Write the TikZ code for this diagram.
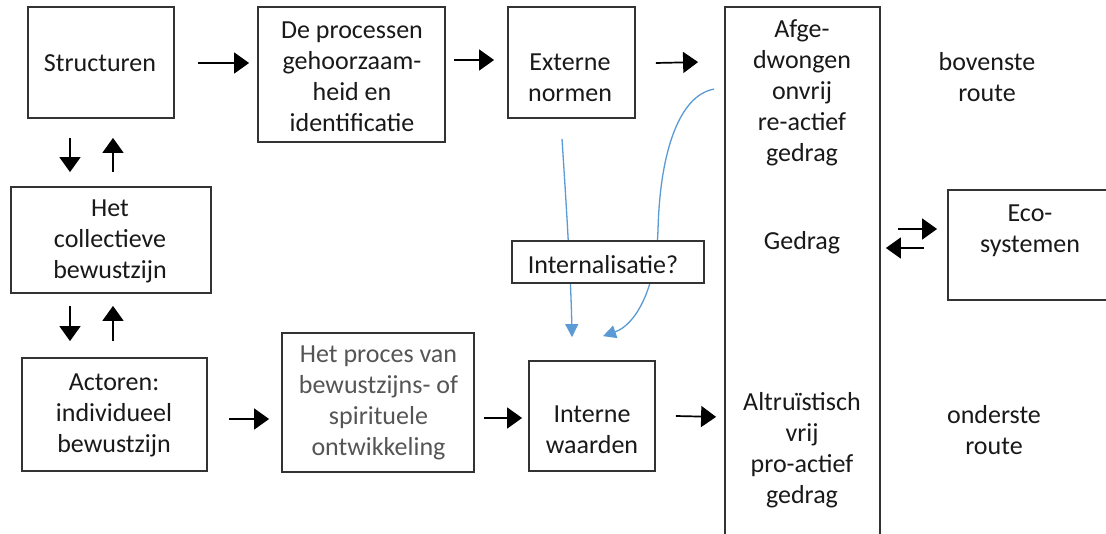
\documentclass[tikz,border=0pt]{standalone}
\usepackage{fontspec}
\setmainfont{Carlito}
\usetikzlibrary{arrows.meta,calc}
\definecolor{bluec}{RGB}{91,155,213}
\definecolor{txtc}{RGB}{25,25,25}
\definecolor{grayt}{RGB}{85,85,85}
\begin{document}
\begin{tikzpicture}[x=1pt,y=-1pt,
  txt/.style={font=\fontsize{26}{31}\selectfont, text=txtc, align=center, inner sep=0pt},
  box/.style={draw=black!80, line width=1.8pt, inner sep=0pt},
  arr/.style={line width=1.7pt, draw=black, -{Triangle[length=15pt,width=21pt]}},
  barr/.style={line width=1.3pt, draw=bluec, -{Triangle[length=13pt,width=13pt,fill=bluec]}},
]
\clip (0,0) rectangle (1106,534);
\fill[white] (0,0) rectangle (1106,534);

% boxes
\node[box, minimum width=146pt, minimum height=111pt] (structuren) at (101,62.5) {};
\node[box, minimum width=187pt, minimum height=135pt] (processen) at (351.5,74.5) {};
\node[box, minimum width=127pt, minimum height=111pt] (externe) at (571.5,62.5) {};
\node[box, minimum width=155pt, minimum height=546pt] (tall) at (802.5,280) {};
\node[box, minimum width=167pt, minimum height=110pt] (eco) at (1031.5,245) {};
\node[box, minimum width=200pt, minimum height=106pt] (collectief) at (111,240) {};
\node[box, minimum width=185pt, minimum height=113pt] (actoren) at (114.5,414.5) {};
\node[box, minimum width=192pt, minimum height=139pt] (proces) at (378,402.5) {};
\node[box, minimum width=126pt, minimum height=110pt] (interne) at (592,416) {};

% texts
\node[txt] (tstructuren) at (100,63) {Structuren};
\node[txt] (tprocessen) at (352,77) {De processen\\gehoorzaam-\\heid en\\identificatie};
\node[txt] (texterne) at (570,77.5) {Externe\\normen};
\node[txt] (tafge) at (802,93) {Afge-\\dwongen\\onvrij\\re-actief\\gedrag};
\node[txt] (tgedrag) at (802,243) {Gedrag};
\node[txt] (taltru) at (802,450) {Altruïstisch\\vrij\\pro-actief\\gedrag};
\node[txt] (tboven) at (987,77.5) {bovenste\\route};
\node[txt] (tonder) at (994,430.5) {onderste\\route};
\node[txt] (teco) at (1030,231) {Eco-\\systemen};
\node[txt] (tcollectief) at (110,241) {Het\\collectieve\\bewustzijn};
\node[txt] (tactoren) at (114,415) {Actoren:\\individueel\\bewustzijn};
\node[txt, text=grayt] (tproces) at (378.5,402.5) {Het proces van\\bewustzijns- of\\spirituele\\ontwikkeling};
\node[txt] (tinterne) at (592,429.5) {Interne\\waarden};

% black arrows
\draw[arr] ($(structuren.east)+(23,0.5)$) -- ($(processen.west)+(-8,-11.5)$);
\draw[arr] ($(processen.east)+(8,-14.5)$) -- ($(externe.west)+(-13,-2.5)$);
\draw[arr] ($(externe.east)+(20,0.5)$) -- ($(tall.north west)+(-26,56)$);
\draw[arr] ($(structuren.south)+(-31,19)$) -- ($(collectief.north)+(-41,-14)$);
\draw[arr] ($(collectief.north)+(2,-14)$) -- ($(structuren.south)+(12,19)$);
\draw[arr] ($(collectief.south)+(-41,12)$) -- ($(actoren.north)+(-44.5,-16)$);
\draw[arr] ($(actoren.north)+(-1.5,-16)$) -- ($(collectief.south)+(2,12)$);
\draw[arr] ($(actoren.east)+(21,4.5)$) -- ($(proces.west)+(-12,16.5)$);
\draw[arr] ($(proces.east)+(9,15.5)$) -- ($(interne.west)+(-6,2)$);
\draw[arr] ($(interne.east)+(20,0)$) -- ($(tall.south west)+(-8,-137)$);
\draw[arr] ($(tall.east)+(17,-51)$) -- ($(eco.west)+(-10,-16)$);
\draw[arr] ($(eco.west)+(-23,3)$) -- ($(tall.east)+(5,-32)$);

% blue curves
\coordinate (b1s) at ($(externe.south)+(-9.5,20)$);
\coordinate (b1e) at ($(interne.north)+(-20,-23)$);
\coordinate (b2s) at ($(tall.north west)+(-10,83)$);
\coordinate (b2e) at ($(interne.north)+(11,-24)$);
\draw[barr] (b1s) .. controls (566,200) and (571,280) .. (b1e);
\draw[line width=1.3pt, draw=bluec] (b2s) .. controls (680,95) and (660,150) .. (658,230);
\draw[barr] (658,230) .. controls (656,290) and (635,325) .. (b2e);

% Internalisatie box on top
\node[box, fill=white, line width=1.5pt, minimum width=192pt, minimum height=42pt] (internal) at (608,262) {};
\node[txt] (tinternal) at (603,265) {Internalisatie?};
\end{tikzpicture}
\end{document}
